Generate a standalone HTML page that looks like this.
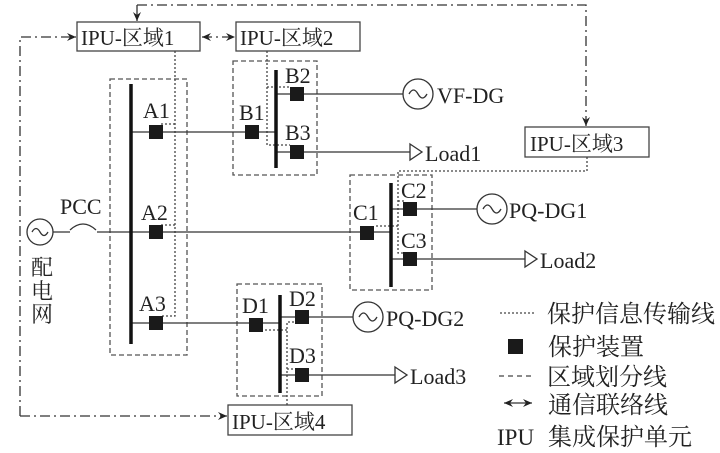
<!DOCTYPE html>
<html><head><meta charset="utf-8"><style>
html,body{margin:0;padding:0;background:#fff;}
svg{display:block;}
text{font-family:"Liberation Serif","Noto Serif CJK SC",serif;fill:#222;}
</style></head><body>
<svg width="720" height="453" viewBox="0 0 720 453" xmlns="http://www.w3.org/2000/svg">
<defs>
<marker id="ar" markerWidth="10" markerHeight="10" refX="9" refY="5" orient="auto" markerUnits="userSpaceOnUse"><path d="M0,1 L9,5 L0,9 L3,5 Z" fill="#222"/></marker>
<marker id="al" markerWidth="10" markerHeight="10" refX="1" refY="5" orient="auto" markerUnits="userSpaceOnUse"><path d="M10,1 L1,5 L10,9 L7,5 Z" fill="#222"/></marker>
</defs>
<g stroke="#333" fill="none" stroke-width="1.3">
<g stroke-dasharray="10,4,2,4">
<path d="M137,5 H586 V126" marker-end="url(#ar)"/>
<path d="M137,5 V21" marker-end="url(#ar)"/>
<path d="M20,416 V37 H76" marker-end="url(#ar)"/>
<path d="M20,416 H227" marker-end="url(#ar)"/>
<path d="M202,37 H235" marker-start="url(#al)" marker-end="url(#ar)"/>
</g>
<g stroke="#555" stroke-dasharray="5,3">
<rect x="110" y="79" width="77" height="276"/>
<rect x="233" y="61" width="84" height="114"/>
<rect x="350" y="175" width="82" height="115"/>
<rect x="237" y="284" width="85" height="112"/>
</g>
<g stroke="#444" stroke-dasharray="2,2">
<path d="M175,51 V316 H160"/>
<path d="M175,124 H160"/>
<path d="M175,225 H160"/>
<path d="M267,51 V145 H290"/>
<path d="M267,87 H290"/>
<path d="M587,157 V171 H398 V253 H405"/>
<path d="M398,201 H405"/>
<path d="M398,226 H374"/>
<path d="M287,405 V322 H296"/>
<path d="M287,330 H262"/>
<path d="M287,369 H296"/>
<path d="M500,313 H534"/>
</g>
<g stroke="#444" stroke-dasharray="5,4"><path d="M499,376 H535"/></g>
<path d="M131,132 H276"/>
<path d="M97,232 H391"/>
<path d="M131,323 H280"/>
<path d="M276,94 H403"/>
<path d="M276,152 H410"/>
<path d="M391,209 H477"/>
<path d="M391,259 H525"/>
<path d="M280,317 H353"/>
<path d="M280,375 H395"/>
<path d="M53,232 H70"/>
<path d="M70,230 Q83,218 96,230"/>
<path d="M410,144 L422,152 L410,160 Z"/>
<path d="M525,251 L537,259 L525,267 Z"/>
<path d="M395,367 L407,375 L395,383 Z"/>
<circle cx="418" cy="94" r="15"/><path d="M409,94 q4.5,-8 9,0 t9,0"/>
<circle cx="492" cy="209" r="15"/><path d="M483,209 q4.5,-8 9,0 t9,0"/>
<circle cx="368" cy="317" r="15"/><path d="M359,317 q4.5,-8 9,0 t9,0"/>
<circle cx="40" cy="232" r="13"/><path d="M32,232 q4,-7 8,0 t8,0"/>
<rect x="77" y="22" width="123" height="29" stroke="#444"/>
<rect x="236" y="22" width="124" height="29" stroke="#444"/>
<rect x="525" y="127" width="124" height="30" stroke="#444"/>
<rect x="228" y="405" width="124" height="30" stroke="#444"/>
<g stroke="#111" stroke-width="3.5">
<path d="M131,84 V344"/><path d="M276,70 V168"/><path d="M391,183 V287"/><path d="M280,295 V393"/>
</g>
<path d="M504,403 H532" marker-start="url(#al)" marker-end="url(#ar)"/>
</g>
<g fill="#1a1a1a">
<rect x="149" y="125" width="14" height="14"/><rect x="149" y="225" width="14" height="14"/><rect x="149" y="316" width="14" height="14"/>
<rect x="245" y="125" width="14" height="14"/><rect x="290" y="87" width="14" height="14"/><rect x="290" y="145" width="14" height="14"/>
<rect x="360" y="226" width="14" height="14"/><rect x="403" y="202" width="14" height="14"/><rect x="403" y="252" width="14" height="14"/>
<rect x="249" y="318" width="14" height="14"/><rect x="295" y="310" width="14" height="14"/><rect x="295" y="368" width="14" height="14"/>
<rect x="508" y="339" width="15" height="15"/>
</g>
<g font-size="21">
<text x="81" y="45">IPU-区域1</text>
<text x="240" y="45">IPU-区域2</text>
<text x="530" y="151">IPU-区域3</text>
<text x="232" y="429">IPU-区域4</text>
</g>
<g font-size="22">
<text x="143" y="118">A1</text><text x="141" y="220">A2</text><text x="139" y="311">A3</text>
<text x="239" y="120">B1</text><text x="285" y="83">B2</text><text x="285" y="140">B3</text>
<text x="353" y="220">C1</text><text x="401" y="198">C2</text><text x="401" y="248">C3</text>
<text x="242" y="313">D1</text><text x="289" y="306">D2</text><text x="289" y="363">D3</text>
<text x="60" y="214">PCC</text>
<text x="437" y="103">VF-DG</text>
<text x="425" y="161">Load1</text>
<text x="509" y="218">PQ-DG1</text>
<text x="540" y="268">Load2</text>
<text x="386" y="326">PQ-DG2</text>
<text x="410" y="384">Load3</text>
</g>
<g font-size="22">
<text x="31" y="275">配</text><text x="31" y="299">电</text><text x="31" y="322">网</text>
</g>
<g font-size="24">
<text x="547" y="322">保护信息传输线</text>
<text x="548" y="355">保护装置</text>
<text x="547" y="385">区域划分线</text>
<text x="548" y="413">通信联络线</text>
<text x="497" y="445" font-size="23">IPU</text>
<text x="548" y="445">集成保护单元</text>
</g>
</svg>
</body></html>
